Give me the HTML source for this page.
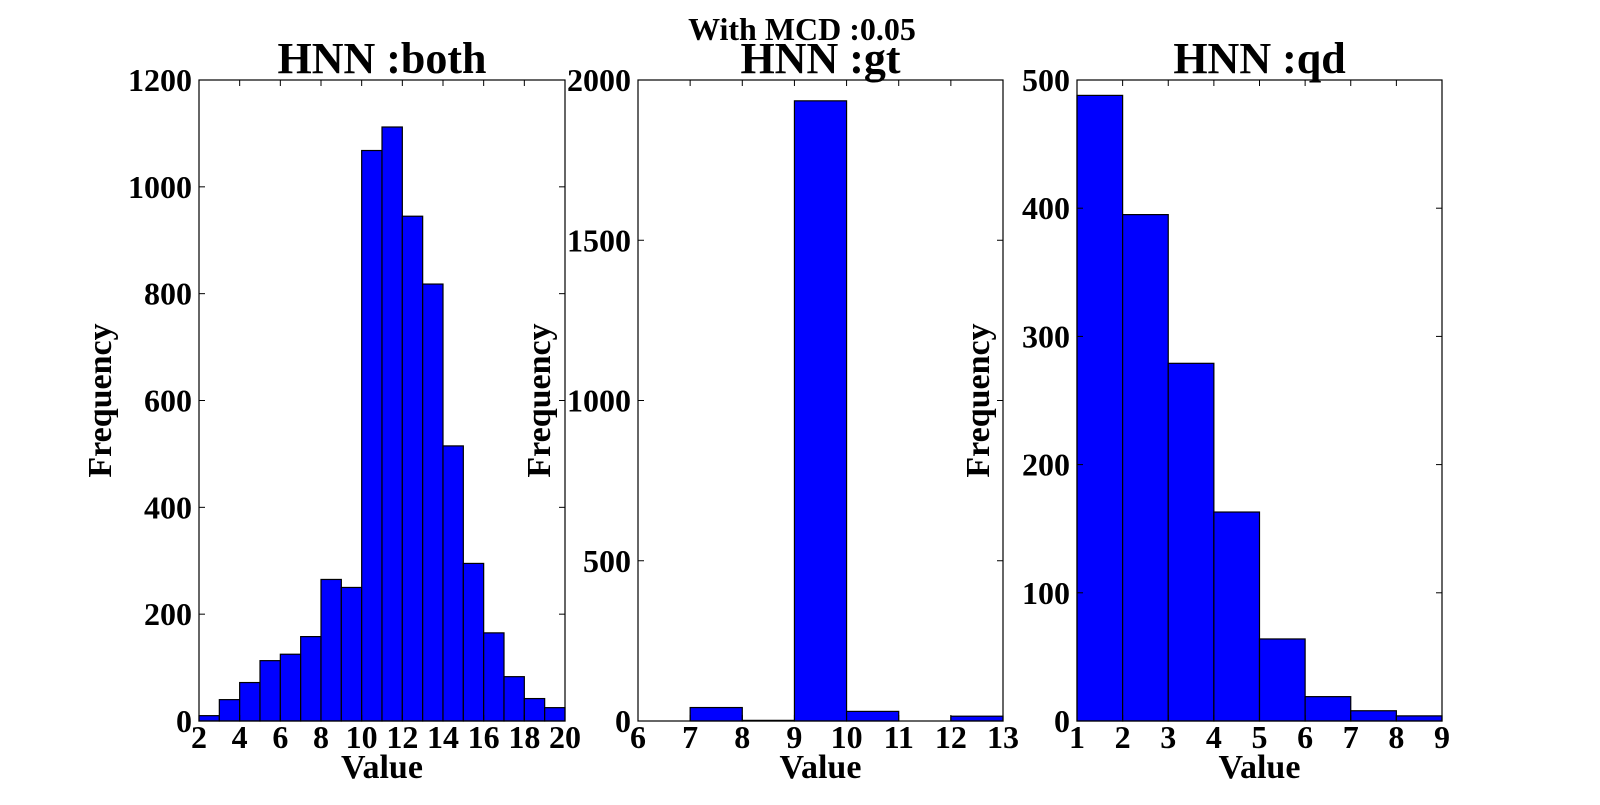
<!DOCTYPE html>
<html><head><meta charset="utf-8"><style>
html,body{margin:0;padding:0;background:#fff}
svg text{font-family:"Liberation Serif",serif;font-weight:bold;fill:#000}
</style></head><body>
<svg id="chart" width="1600" height="800" viewBox="0 0 1600 800">
<text x="802" y="40" text-anchor="middle" font-size="32">With MCD :0.05</text>
</svg>
<script>
const bothValues=[10,40,72,113,125,158,265,250,1068,1112,945,818,515,295,165,83,42,25];
const bothEdges=[2,3,4,5,6,7,8,9,10,11,12,13,14,15,16,17,18,19,20];
const bothXTicks=[2,4,6,8,10,12,14,16,18,20];
const bothYTicks=[0,200,400,600,800,1000,1200];
const gtValues=[0,42,2,1935,30,0,15];
const gtEdges=[6,7,8,9,10,11,12,13];
const gtXTicks=[6,7,8,9,10,11,12,13];
const gtYTicks=[0,500,1000,1500,2000];
const qdValues=[488,395,279,163,64,19,8,4];
const qdEdges=[1,2,3,4,5,6,7,8,9];
const qdXTicks=[1,2,3,4,5,6,7,8,9];
const qdYTicks=[0,100,200,300,400,500];
const titles=["HNN :both","HNN :gt","HNN :qd"];

const svg=document.getElementById('chart');
const NS='http://www.w3.org/2000/svg';
function mk(tag,attrs,parent){const e=document.createElementNS(NS,tag);for(const k in attrs)e.setAttribute(k,attrs[k]);(parent||svg).appendChild(e);return e;}

function panel(idx,left,right,top,bottom,values,edges,xt,yt,title){
  const g=mk('g',{});
  
  
  const x0=edges[0],x1=edges[edges.length-1],y1=yt[yt.length-1];
  const sx=v=>left+(v-x0)/(x1-x0)*(right-left);
  const sy=v=>bottom-v/y1*(bottom-top);
  values.forEach((v,i)=>{
    if(v<=0)return;
    const r=mk('rect',{x:sx(edges[i]),y:sy(v),width:sx(edges[i+1])-sx(edges[i]),height:bottom-sy(v),fill:'#0000ff',stroke:'#000','stroke-width':1.2},g);
    
    
  });
  const f=mk('rect',{x:left,y:top,width:right-left,height:bottom-top,fill:'none',stroke:'#000','stroke-width':1.2},g);
  
  
  xt.forEach(t=>{
    const x=sx(t);
    mk('line',{x1:x,x2:x,y1:bottom,y2:bottom-6,stroke:'#000'},g);
    mk('line',{x1:x,x2:x,y1:top,y2:top+6,stroke:'#000'},g);
    const tx=mk('text',{x:x,y:bottom+27,'text-anchor':'middle','font-size':32},g);
    tx.textContent=t;
    
    
  });
  yt.forEach(t=>{
    const y=sy(t);
    mk('line',{x1:left,x2:left+6,y1:y,y2:y,stroke:'#000'},g);
    mk('line',{x1:right,x2:right-6,y1:y,y2:y,stroke:'#000'},g);
    const tx=mk('text',{x:left-7,y:y+11,'text-anchor':'end','font-size':32},g);
    tx.textContent=t;
    
    
  });
  const tt=mk('text',{x:(left+right)/2,y:top-7,'text-anchor':'middle','font-size':44},g);
  tt.textContent=title;
  
  
  const xl=mk('text',{x:(left+right)/2,y:bottom+57,'text-anchor':'middle','font-size':34},g);
  xl.textContent='Value';
  
  
  const yx=left-88,yy=(top+bottom)/2;
  const yl=mk('text',{x:yx,y:yy,'text-anchor':'middle','font-size':34,transform:'rotate(-90 '+yx+' '+yy+')'},g);
  yl.textContent='Frequency';
  
  
}
panel(0,199,565,80,721,bothValues,bothEdges,bothXTicks,bothYTicks,titles[0]);
panel(1,638,1003,80,721,gtValues,gtEdges,gtXTicks,gtYTicks,titles[1]);
panel(2,1077,1442,80,721,qdValues,qdEdges,qdXTicks,qdYTicks,titles[2]);
</script>
</body></html>
